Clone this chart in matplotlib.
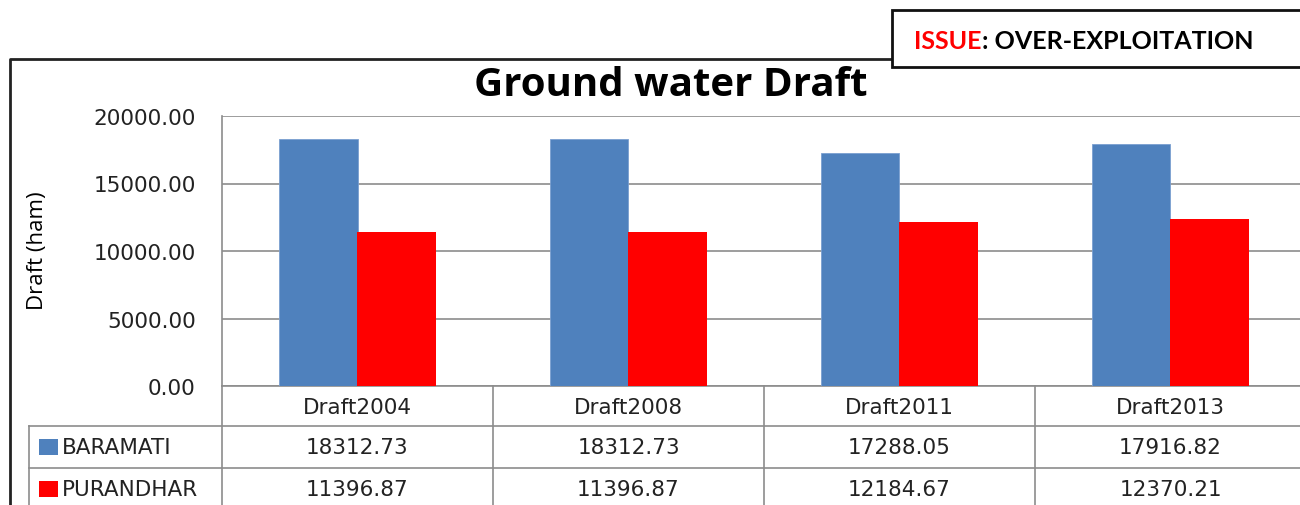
import matplotlib
matplotlib.use('Agg')
import matplotlib.pyplot as plt
from matplotlib.patches import Rectangle
import numpy as np

categories = ['Draft2004', 'Draft2008', 'Draft2011', 'Draft2013']
baramati = [18312.73, 18312.73, 17288.05, 17916.82]
purandhar = [11396.87, 11396.87, 12184.67, 12370.21]
series_names = ['BARAMATI', 'PURANDHAR']
series_colors = ['#4F81BD', '#FF0000']
yticks = [0, 5000, 10000, 15000, 20000]

W, H = 1300, 506
fig = plt.figure(figsize=(W / 100, H / 100), dpi=100)

# chart area, placed in pixels
left, right, top, bottom = 222, 1306, 117, 387
ax = fig.add_axes([left / W, (H - bottom) / H, (right - left) / W, (bottom - top) / H])
x = np.arange(len(categories))
bw = 0.288
ax.bar(x - bw / 2, baramati, bw, color=series_colors[0], edgecolor='#7A9FD0', linewidth=0.6, zorder=3)
ax.bar(x + bw / 2, purandhar, bw, color=series_colors[1], zorder=3)
ax.set_xlim(-0.5, len(categories) - 0.5)
ax.set_ylim(0, 20000)
ax.set_yticks(yticks)
ax.set_yticklabels(['%.2f' % v for v in yticks], fontsize=15.5, family='DejaVu Sans', color='#222222')
ax.set_xticks([])
ax.tick_params(axis='y', length=0, pad=19)
ax.yaxis.grid(True, color='#8C8C8C', linewidth=1.2, zorder=0)
for s in ['top', 'right']:
    ax.spines[s].set_visible(False)
for s in ['left', 'bottom']:
    ax.spines[s].set_color('#8C8C8C')
    ax.spines[s].set_linewidth(1.2)

# overlay in pixel coords for frames, title, data table
ov = fig.add_axes([0, 0, 1, 1], zorder=5)
ov.set_xlim(0, W)
ov.set_ylim(H, 0)
ov.axis('off')
ov.patch.set_alpha(0)

# outer chart frame
ov.plot([10, 10, W + 5], [H + 5, 60, 60], color='#222222', lw=2)
# issue box
ov.add_patch(Rectangle((892, 11), 420, 57, facecolor='white', edgecolor='#111111', lw=2, zorder=6))
t1 = ov.text(914, 41, 'ISSUE', color='#FF0000', fontsize=18, fontweight='bold', family='Lato',
             va='center', ha='left', zorder=7)
fig.canvas.draw()
bb = t1.get_window_extent()
x_end = ov.transData.inverted().transform((bb.x1, bb.y0))[0]
ov.text(x_end, 41, ': OVER-EXPLOITATION', color='black', fontsize=18, fontweight='bold',
        family='Lato', va='center', ha='left', zorder=7)

# title and y label
ov.text(671, 85, 'Ground water Draft', fontsize=29, fontweight='bold', family='Open Sans',
        ha='center', va='center')
ov.text(37, 251, 'Draft (ham)', fontsize=16, family='Open Sans',
        rotation=90, ha='center', va='center')

# data table
col_w = (right - left) / len(categories)
rows = [387, 427, 469, 511]
gc = '#8C8C8C'
for y in rows[1:3]:
    ov.plot([29, right], [y, y], color=gc, lw=1.2)
ov.plot([29, 29], [rows[1], H + 5], color=gc, lw=1.2)
for i in range(1, len(categories)):
    xx = left + i * col_w
    ov.plot([xx, xx], [rows[0], H + 5], color=gc, lw=1.2)
ov.plot([left, left], [rows[0], H + 5], color=gc, lw=1.2)

fs = 15.5
for i, c in enumerate(categories):
    cx = left + (i + 0.5) * col_w
    ov.text(cx, 408, c, fontsize=fs, family='DejaVu Sans', ha='center', va='center', color='#222222')
    ov.text(cx, 448, '%.2f' % baramati[i], fontsize=fs, family='DejaVu Sans', ha='center', va='center', color='#222222')
    ov.text(cx, 490, '%.2f' % purandhar[i], fontsize=fs, family='DejaVu Sans', ha='center', va='center', color='#222222')

for name, col, y in zip(series_names, series_colors, [448, 490]):
    ov.add_patch(Rectangle((39, y - 8), 19, 16, facecolor=col, edgecolor='none'))
    ov.text(62, y, name, fontsize=fs, family='DejaVu Sans', ha='left', va='center', color='#222222')

fig.savefig('out.png', dpi=100, facecolor='white')
